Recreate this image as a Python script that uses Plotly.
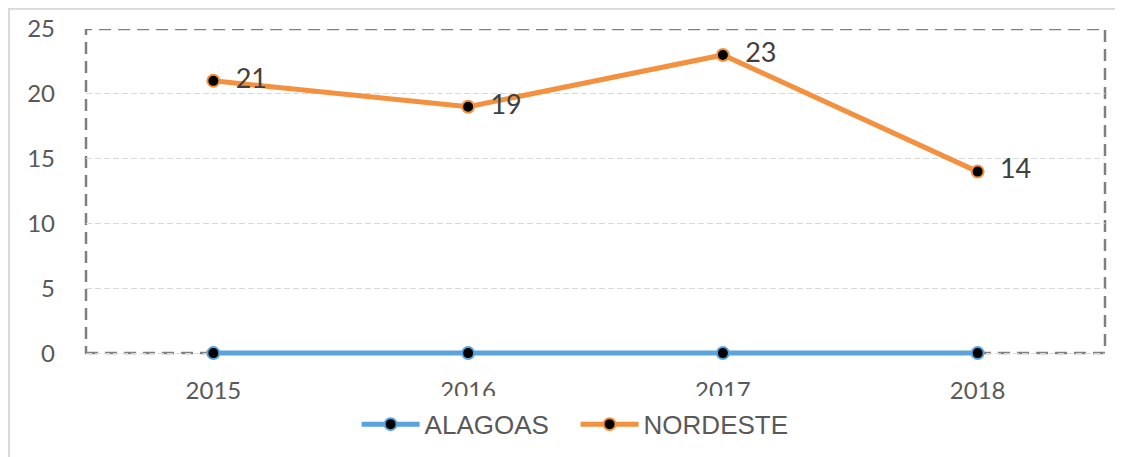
import plotly.graph_objects as go

years = ["2015", "2016", "2017", "2018"]
alagoas = [0, 0, 0, 0]
nordeste = [21, 19, 23, 14]
y_ticks = [0, 5, 10, 15, 20, 25]

NB = "\u00a0\u00a0"

fig = go.Figure()
fig.add_trace(go.Scatter(
    x=years, y=alagoas, name="ALAGOAS\u00a0\u00a0\u00a0", mode="lines+markers",
    line=dict(color="#5BA3DC", width=5),
    marker=dict(color="black", size=12, line=dict(color="#5BA3DC", width=2)),
    cliponaxis=False,
))
fig.add_trace(go.Scatter(
    x=years, y=nordeste, name="NORDESTE", mode="lines+markers+text",
    text=[NB + str(v) for v in nordeste], textposition="middle right",
    textfont=dict(family="Lato", size=27, color="#404040"),
    line=dict(color="#F4913F", width=5),
    marker=dict(color="black", size=12, line=dict(color="#F4913F", width=2)),
    cliponaxis=False,
))

fig.update_layout(
    width=1123, height=457,
    margin=dict(l=78, r=25.5, t=21, b=108.1, autoexpand=False),
    paper_bgcolor="white", plot_bgcolor="white",
    showlegend=True,
    legend=dict(orientation="h", x=0.48, xanchor="center", y=-0.205, yanchor="middle",
                font=dict(family="Liberation Sans", size=26, color="#595959"),
                bgcolor="white", bordercolor="white", borderwidth=5,
                tracegroupgap=0, itemwidth=58),
    shapes=[
        dict(type="rect", xref="paper", yref="paper", x0=-0.0755, y0=-0.6, x1=1.2, y1=1.0617,
             line=dict(color="#d9d9d9", width=2), layer="below"),
        dict(type="rect", xref="paper", yref="y", x0=0, y0=0, x1=1, y1=25,
             line=dict(color="#7f7f7f", width=2.5, dash="12px,7px"), layer="below"),
    ],
)
fig.update_xaxes(
    type="category", range=[-0.5, 3.5], showgrid=False, zeroline=False, showline=False,
    tickfont=dict(family="Lato", size=24, color="#595959"), ticks="",
    ticklabelstandoff=17, automargin=False,
)
fig.update_yaxes(
    range=[-0.3, 25], tickvals=y_ticks, showgrid=True, gridcolor="#d9d9d9", griddash="6px,3px",
    gridwidth=1.2, zeroline=False, showline=False,
    tickfont=dict(family="Lato", size=24, color="#595959"), ticks="",
    ticklabelstandoff=30, automargin=False,
)
fig.write_html("out.html")
